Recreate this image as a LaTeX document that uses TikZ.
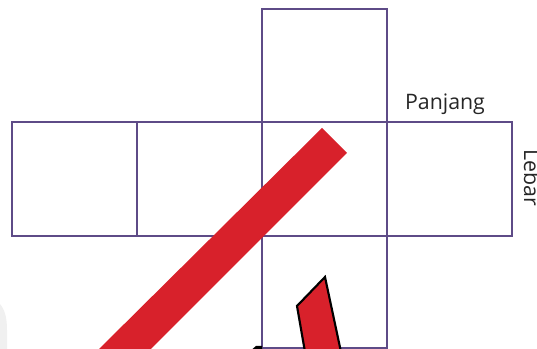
\documentclass[tikz,border=0pt]{standalone}
\usepackage{fontspec}
\setmainfont{Open Sans}
\definecolor{netpurple}{HTML}{5E4B87}
\definecolor{markred}{HTML}{D8212B}
\begin{document}
\begin{tikzpicture}[x=0.75pt,y=-0.75pt,
    face/.style={draw=netpurple,line width=2pt},
    stroke/.style={fill=markred,draw=none},
    lbl/.style={font=\fontsize{16}{18}\selectfont,text=black!85,inner sep=0pt}]
  \useasboundingbox (0,0) rectangle (537,349);
  \begin{scope}
    \clip (0,0) rectangle (537,349);
    % net of the box
    \draw[face] (262,9) rectangle (387,122);
    \foreach \x in {12,137,262,387}
      \draw[face] (\x,122) rectangle ++(125,114);
    \draw[face] (262,236) rectangle (387,348);
    % labels
    \node[lbl,anchor=base] (panjang) at (445,110) {Panjang};
    \node[lbl,rotate=-90,anchor=base] (lebar) at (524,178) {Lebar};
    % red marks
    \path[stroke] (322,128) -- (347,153) -- (148,352) -- (96,352) -- cycle;
    \path[stroke,draw=black,line width=1.6pt,line join=miter]
      (297,306) -- (325,277) -- (341,352) -- (305,352) -- cycle;
    \fill[black] (249,352) -- (256,346) -- (262,346) -- (262,352) -- cycle;
    \fill[black!6] (0,304) .. controls (5,310) and (7,318) .. (7,330) -- (7,352) -- (0,352) -- cycle;
  \end{scope}
\end{tikzpicture}
\end{document}
